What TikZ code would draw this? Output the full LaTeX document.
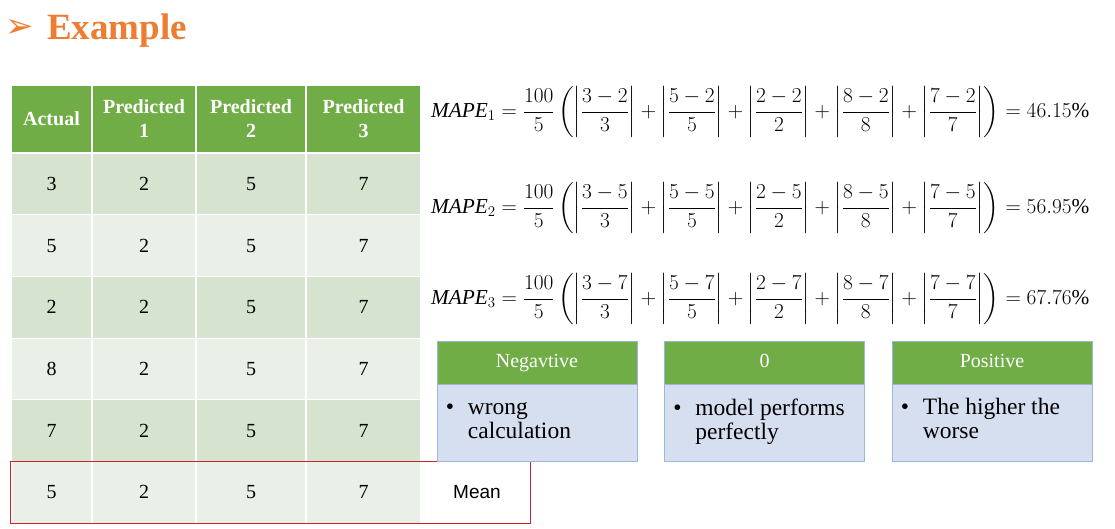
\RequirePackage{fix-cm}
\documentclass[tikz,border=0pt]{standalone}
\usepackage{amsmath,amssymb}
\usepackage{fontspec}
\setmainfont{Liberation Serif}
\newfontfamily\arrowfont{DejaVu Sans}
\newfontfamily\meanfont{Liberation Sans}
\usepackage{xcolor}
\usepackage{tikz}
\usetikzlibrary{positioning}
\definecolor{title}{HTML}{ED7D31}
\definecolor{green}{HTML}{70AD47}
\definecolor{rowdark}{HTML}{D5E3CF}
\definecolor{rowlight}{HTML}{EAEFE8}
\definecolor{bluebody}{HTML}{D6DFEF}
\definecolor{blueline}{HTML}{9DB5DF}
\definecolor{redline}{HTML}{C8232C}
\newcommand{\absfr}[2]{\left|\dfrac{#1}{#2}\right|}
\tikzset{
  hdr/.style={draw=white, line width=1.2pt, fill=green, text=white, font=\fontsize{20}{24}\selectfont\bfseries, align=center, minimum height=68pt, inner sep=0pt},
  cellbox/.style={draw=white, line width=1.2pt, font=\fontsize{20}{24}\selectfont, minimum height=61.7pt, inner sep=0pt},
  boxhead/.style={draw=blueline, line width=0.6pt, fill=green, text=white, font=\fontsize{20}{22}\selectfont, text height=14pt, text depth=4pt, minimum width=200pt, minimum height=43pt, inner sep=0pt},
  boxbody/.style={draw=blueline, line width=0.6pt, fill=bluebody, minimum width=200pt, minimum height=77pt, inner sep=0pt},
  bullets/.style={font=\fontsize{23.5}{24}\selectfont, align=left, inner sep=0pt},
  mathlab/.style={anchor=west, inner sep=0pt, font=\fontsize{21.3}{24}\selectfont}
}

\begin{document}
\begin{tikzpicture}[x=1pt, y=-1pt]
  \useasboundingbox (0,0) rectangle (1115,529);

  % title
  \node[text=title, font=\arrowfont\fontsize{34}{34}\selectfont, anchor=west, inner sep=0pt] (arrow) at (5,28) {➢};
  \node[text=title, font=\fontsize{37}{40}\selectfont\bfseries, anchor=base west, inner sep=0pt] (title) at (47,40) {Example};

  % table
  \foreach \c/\x/\w/\t in {1/51.5/81/Actual, 2/144/104/{Predicted\\1}, 3/251/110/{Predicted\\2}, 4/363.5/115/{Predicted\\3}}
    \node[hdr, minimum width=\w] (h\c) at (\x,119) {\t};
  \foreach \r/\a/\f in {1/3/rowdark, 2/5/rowlight, 3/2/rowdark, 4/8/rowlight, 5/7/rowdark, 6/5/rowlight}{
    \foreach \c/\x/\w/\v in {1/51.5/81/\a, 2/144/104/2, 3/251/110/5, 4/363.5/115/7}
      \node[cellbox, fill=\f, minimum width=\w] (c\r\c) at (\x,{153+61.7*(\r-0.5)}) {\v};
  }

  % mean row
  \node[font=\meanfont\fontsize{19}{22}\selectfont] (mean) at (477,492) {Mean};
  \coordinate (meanright) at (530,461.5);
  \draw[redline, line width=1pt] (c61.south west) rectangle (meanright);

  % formulas
  \node[mathlab] (mape1) at (431,112) {$\mathit{MAPE}_1=\dfrac{100}{5}\left(\absfr{3-2}{3}+\absfr{5-2}{5}+\absfr{2-2}{2}+\absfr{8-2}{8}+\absfr{7-2}{7}\right)=46.15\%$};
  \node[mathlab] (mape2) at (431,208) {$\mathit{MAPE}_2=\dfrac{100}{5}\left(\absfr{3-5}{3}+\absfr{5-5}{5}+\absfr{2-5}{2}+\absfr{8-5}{8}+\absfr{7-5}{7}\right)=56.95\%$};
  \node[mathlab] (mape3) at (431,299) {$\mathit{MAPE}_3=\dfrac{100}{5}\left(\absfr{3-7}{3}+\absfr{5-7}{5}+\absfr{2-7}{2}+\absfr{8-7}{8}+\absfr{7-7}{7}\right)=67.76\%$};

  % sign boxes
  \node[boxhead] (negh) at (537,362.5) {Negavtive};
  \node[boxhead] (zeroh) at (764.5,362.5) {0};
  \node[boxhead] (posh) at (992,362.5) {Positive};
  \node[boxbody, below=0pt of negh] (negb) {};
  \node[boxbody, below=0pt of zeroh] (zerob) {};
  \node[boxbody, below=0pt of posh] (posb) {};
  \node[bullets, below right=14pt and 9pt of negb.north west] (negt) {\rule{0pt}{16pt}\makebox[22pt][l]{\textbullet}wrong\\\hspace*{22pt}calculation};
  \node[bullets, below right=14pt and 9pt of zerob.north west] (zerot) {\rule{0pt}{16pt}\makebox[22pt][l]{\textbullet}model performs\\\hspace*{22pt}perfectly};
  \node[bullets, below right=14pt and 9pt of posb.north west] (post) {\rule{0pt}{16pt}\makebox[22pt][l]{\textbullet}The higher the\\\hspace*{22pt}worse};
\end{tikzpicture}
\end{document}
